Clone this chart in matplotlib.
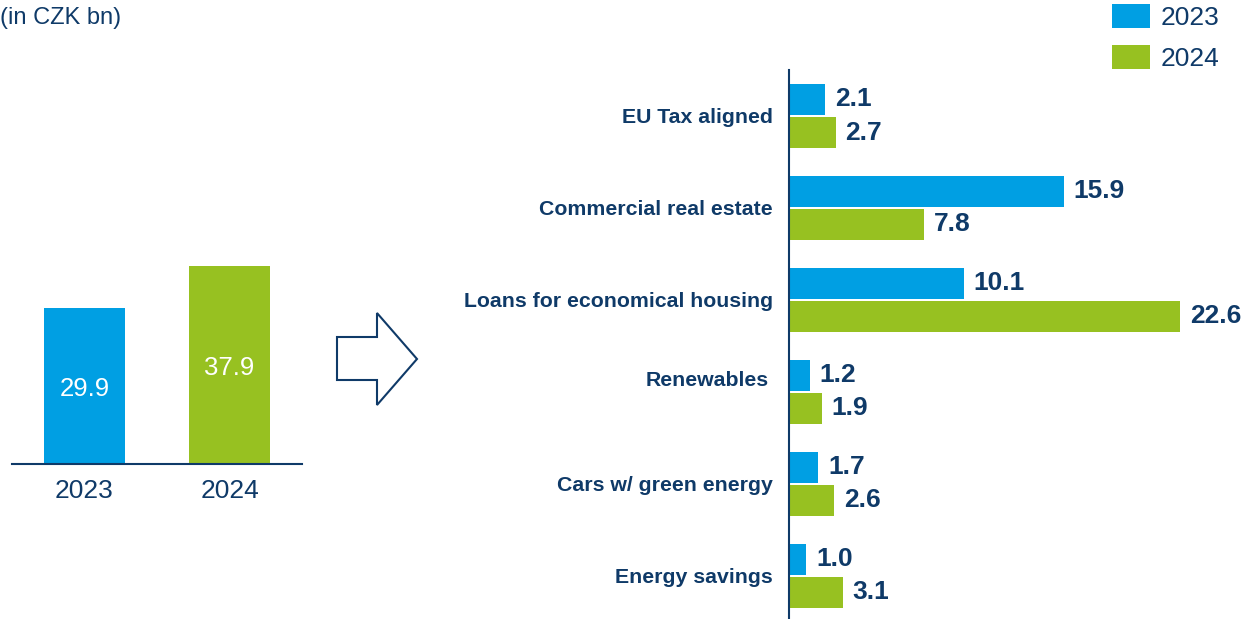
import matplotlib.pyplot as plt
import matplotlib.transforms as mtransforms
from matplotlib.patches import Polygon
import numpy as np

plt.rcParams["font.family"] = ["Liberation Sans", "DejaVu Sans"]

navy = "#0F3A68"
blue = "#009FE3"
green = "#97C121"

# Totals (left chart)
years = ["2023", "2024"]
totals = [29.9, 37.9]

# Breakdown (right chart)
categories = [
    "EU Tax aligned",
    "Commercial real estate",
    "Loans for economical housing",
    "Renewables",
    "Cars w/ green energy",
    "Energy savings",
]
vals_2023 = [2.1, 15.9, 10.1, 1.2, 1.7, 1.0]
vals_2024 = [2.7, 7.8, 22.6, 1.9, 2.6, 3.1]

W, H = 1243, 619
fig = plt.figure(figsize=(W / 100, H / 100), dpi=100)


def px_box(x0, y0, x1, y1):
    # pixel box (top-left origin) -> figure fraction rect
    return [x0 / W, 1 - y1 / H, (x1 - x0) / W, (y1 - y0) / H]


# ---- left: totals
ax1 = fig.add_axes(px_box(12, 60, 302, 464))
ax1.bar([0, 1], totals, width=0.56, color=[blue, green])
ax1.set_xlim(-0.5, 1.5)
ax1.set_ylim(0, 404 / 5.22)
for i, v in enumerate(totals):
    ax1.annotate(f"{v:.1f}", (i, v / 2), xytext=(0, -2), textcoords="offset points",
                 ha="center", va="center", color="white", fontsize=18.5)
ax1.set_xticks([0, 1], years)
ax1.tick_params(axis="x", length=0, pad=11, labelsize=19, labelcolor=navy)
ax1.set_yticks([])
for s in ["top", "left", "right"]:
    ax1.spines[s].set_visible(False)
ax1.spines["bottom"].set_color(navy)
ax1.spines["bottom"].set_linewidth(1.5)

fig.text(0, 1 - 18 / H, "(in CZK bn)", fontsize=17, color=navy, va="center", ha="left")

# ---- arrow
arrow_px = [(337, 337), (377, 337), (377, 313), (417, 359), (377, 405), (377, 380), (337, 380)]
arrow = Polygon([(x / W, 1 - y / H) for x, y in arrow_px], closed=True,
                transform=fig.transFigure, facecolor="white", edgecolor=navy, linewidth=1.5)
fig.patches.append(arrow)

# ---- right: breakdown
ax2 = fig.add_axes(px_box(789, 70, W, H))
y = np.arange(len(categories))
b1 = ax2.barh(y - 0.18, vals_2023, height=0.34, color=blue, label="2023")
b2 = ax2.barh(y + 0.18, vals_2024, height=0.34, color=green, label="2024")
ax2.set_xlim(0, (W - 789) / 17.3)
ax2.set_ylim(len(categories) - 0.53, -0.5)
for bars, vals in [(b1, vals_2023), (b2, vals_2024)]:
    for rect, v in zip(bars, vals):
        ax2.annotate(f"{v:.1f}", (rect.get_width(), rect.get_y() + rect.get_height() / 2),
                     xytext=(7, 0), textcoords="offset points", ha="left", va="center",
                     fontsize=19, fontweight="bold", color=navy)
ax2.set_yticks(y, categories)
ax2.tick_params(axis="y", length=0, pad=11.5, labelsize=15.3, labelcolor=navy)
for lab in ax2.get_yticklabels():
    lab.set_fontweight("bold")
    if lab.get_text() == "Renewables":
        lab.set_transform(lab.get_transform() +
                          mtransforms.ScaledTranslation(-0.04, 0.13, fig.dpi_scale_trans))
ax2.set_xticks([])
for s in ["top", "bottom", "right"]:
    ax2.spines[s].set_visible(False)
ax2.spines["left"].set_color(navy)
ax2.spines["left"].set_linewidth(1.5)

fig.legend(handles=[b1, b2], loc="upper left", bbox_to_anchor=(1112 / W, 1 - 4 / H),
           frameon=False, fontsize=19, labelcolor=navy, borderpad=0, borderaxespad=0,
           handlelength=1.45, handleheight=1.05, handletextpad=0.4, labelspacing=0.55)

fig.savefig("out.png", dpi=100)
